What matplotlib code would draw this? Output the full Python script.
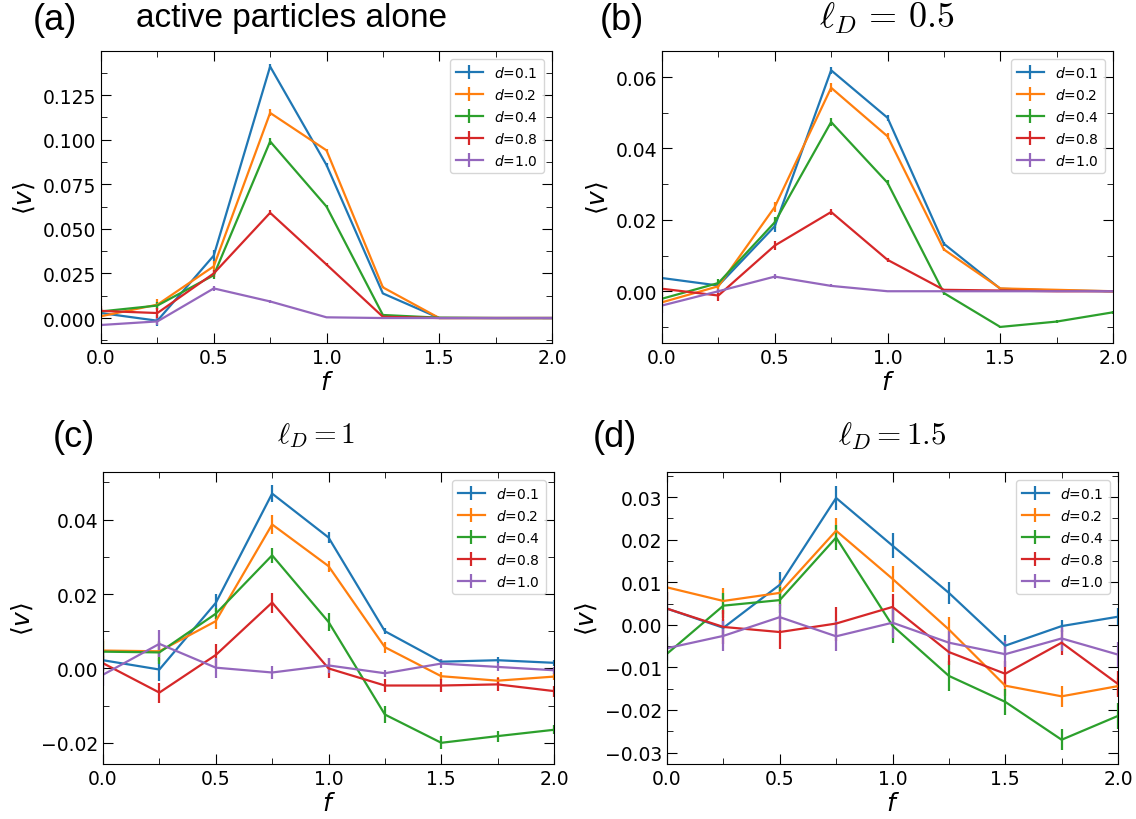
import numpy as np
from matplotlib import pyplot as plt
from matplotlib.ticker import MultipleLocator

# f values shared by all panels
f_vals = [0.0, 0.25, 0.5, 0.75, 1.0, 1.25, 1.5, 1.75, 2.0]
d_labels = ["0.1", "0.2", "0.4", "0.8", "1.0"]

# (a) active particles alone
a_v = [
    [0.0028, -0.0015, 0.035, 0.141, 0.0858, 0.0138, 0.0, 0.0, 0.0],
    [0.001, 0.0075, 0.029, 0.115, 0.094, 0.0172, 0.0, 0.0, 0.0],
    [0.0037, 0.007, 0.024, 0.099, 0.0625, 0.0017, 0.0002, 0.0, 0.0],
    [0.004, 0.0028, 0.025, 0.059, 0.030, 0.0007, 0.0, 0.0, 0.0],
    [-0.0039, -0.0019, 0.0166, 0.0093, 0.0004, 0.0, 0.0, 0.0, 0.0],
]
a_err = [
    [0.002, 0.003, 0.003, 0.0015, 0.001, 0.0005, 0, 0, 0],
    [0.002, 0.003, 0.003, 0.002, 0.001, 0.0005, 0, 0, 0],
    [0.002, 0.002, 0.002, 0.002, 0.001, 0.0005, 0, 0, 0],
    [0.003, 0.003, 0.002, 0.0015, 0.001, 0.0003, 0, 0, 0],
    [0.001, 0.002, 0.0015, 0.0008, 0.0003, 0, 0, 0, 0],
]

# (b) l_D = 0.5
b_v = [
    [0.0037, 0.0016, 0.0182, 0.0619, 0.0486, 0.0133, 0.0007, 0.0002, 0.0],
    [-0.0031, 0.0014, 0.0236, 0.057, 0.0434, 0.0117, 0.0008, 0.0004, 0.0],
    [-0.0021, 0.0023, 0.0193, 0.0474, 0.0304, -0.0005, -0.010, -0.0085, -0.0059],
    [0.0007, -0.0012, 0.0128, 0.0222, 0.0088, 0.0004, 0.0002, 0.0, 0.0],
    [-0.004, 0.0, 0.0041, 0.0015, 0.0, 0.0, 0.0, 0.0, 0.0],
]
b_err = [
    [0.0025, 0.001, 0.0015, 0.001, 0.0008, 0.0005, 0.0002, 0, 0],
    [0.001, 0.001, 0.0015, 0.0012, 0.0008, 0.0005, 0.0002, 0, 0],
    [0.001, 0.0012, 0.0015, 0.001, 0.0007, 0.0005, 0.0004, 0.0004, 0.0004],
    [0.002, 0.0015, 0.0012, 0.0008, 0.0006, 0.0002, 0, 0, 0],
    [0.002, 0.0005, 0.0006, 0.0004, 0.0002, 0, 0, 0, 0],
]

# (c) l_D = 1
c_v = [
    [0.0022, -0.0003, 0.0176, 0.047, 0.0352, 0.010, 0.0018, 0.0022, 0.0015],
    [0.0048, 0.0046, 0.0127, 0.0387, 0.0275, 0.0057, -0.0021, -0.0033, -0.0022],
    [0.0045, 0.0043, 0.0147, 0.0304, 0.0125, -0.0124, -0.020, -0.0182, -0.0165],
    [0.0014, -0.0065, 0.0036, 0.0177, 0.0, -0.0046, -0.0046, -0.0043, -0.0061],
    [-0.0017, 0.0066, 0.0002, -0.0011, 0.0008, -0.0013, 0.0013, 0.0004, -0.0005],
]
c_err = [
    [0.0025, 0.003, 0.0025, 0.0022, 0.0015, 0.0008, 0.0008, 0.0008, 0.0008],
    [0.003, 0.0025, 0.002, 0.0025, 0.0015, 0.0015, 0.001, 0.001, 0.001],
    [0.003, 0.003, 0.0015, 0.002, 0.0025, 0.0022, 0.0018, 0.0015, 0.0012],
    [0.002, 0.0027, 0.003, 0.0027, 0.0027, 0.0018, 0.0018, 0.0018, 0.0015],
    [0.003, 0.0036, 0.0027, 0.0018, 0.002, 0.001, 0.0012, 0.001, 0.001],
]

# (d) l_D = 1.5
d_v = [
    [0.0038, -0.0007, 0.0094, 0.0298, 0.0186, 0.0075, -0.0049, -0.0003, 0.0019],
    [0.0088, 0.0056, 0.0075, 0.0221, 0.0108, -0.0011, -0.0143, -0.0168, -0.0144],
    [-0.0068, 0.0045, 0.0058, 0.0205, -0.0002, -0.012, -0.0181, -0.027, -0.0214],
    [0.0038, -0.0005, -0.0017, 0.0003, 0.0042, -0.0064, -0.0115, -0.0042, -0.0139],
    [-0.0055, -0.0026, 0.0018, -0.0027, 0.0005, -0.0042, -0.0069, -0.0032, -0.007],
]
d_err = [
    [0.004, 0.002, 0.003, 0.0029, 0.003, 0.0025, 0.0025, 0.0015, 0.002],
    [0.003, 0.003, 0.003, 0.003, 0.003, 0.003, 0.0025, 0.0025, 0.002],
    [0.004, 0.003, 0.003, 0.003, 0.004, 0.0035, 0.003, 0.0025, 0.003],
    [0.004, 0.004, 0.004, 0.004, 0.003, 0.003, 0.003, 0.003, 0.003],
    [0.003, 0.0035, 0.003, 0.0035, 0.0035, 0.003, 0.003, 0.003, 0.003],
]

fig = plt.figure(figsize=(11.36, 8.2), dpi=100)
W, H = 1136, 820


def make_axes(left, top, right, bottom):
    return fig.add_axes([left / W, 1 - bottom / H, (right - left) / W, (bottom - top) / H])


panels = [
    (make_axes(101, 52, 552, 344), a_v, a_err, (-0.014, 0.1497), 0.025),
    (make_axes(662, 52, 1113, 344), b_v, b_err, (-0.0145, 0.0673), 0.02),
    (make_axes(103, 473, 554, 765), c_v, c_err, (-0.0257, 0.0528), 0.02),
    (make_axes(667, 473, 1118, 765), d_v, d_err, (-0.0327, 0.0359), 0.01),
]

for ax, vals, errs, ylim, major in panels:
    for v, e, lab in zip(vals, errs, d_labels):
        ax.errorbar(f_vals, v, yerr=e, label="$d$=" + lab, linewidth=1.6, elinewidth=1.6)
    ax.set_xlim(0, 2.0)
    ax.set_ylim(*ylim)
    ax.xaxis.set_major_locator(MultipleLocator(0.5))
    ax.xaxis.set_minor_locator(MultipleLocator(0.25))
    ax.yaxis.set_major_locator(MultipleLocator(major))
    ax.yaxis.set_minor_locator(MultipleLocator(major / 2))
    ax.tick_params(which="both", direction="in", top=True, right=True, labelsize=13.5)
    ax.tick_params(which="major", length=7)
    ax.tick_params(which="minor", length=4)
    ax.set_xlabel("$f$", fontsize=18, labelpad=2)
    ax.set_ylabel(r"$\langle v \rangle$", fontsize=18, labelpad=4)
    ax.legend(loc="upper right", fontsize=10, handlelength=2.0, borderaxespad=0.6)

# panel labels and titles
fig.text(55 / W, 1 - 20 / H, "(a)", fontsize=26, family="Liberation Sans", ha="center", va="center")
fig.text(292 / W, 1 - 18 / H, "active particles alone", fontsize=24, family="Liberation Sans",
         ha="center", va="center")
fig.text(622 / W, 1 - 20 / H, "(b)", fontsize=26, family="Liberation Sans", ha="center", va="center")
fig.text(887 / W, 1 - 18 / H, r"$\ell_D \,=\, 0.5$", fontsize=26, ha="center", va="center",
         math_fontfamily="cm")
fig.text(74 / W, 1 - 438 / H, "(c)", fontsize=26, family="Liberation Sans", ha="center", va="center")
fig.text(316 / W, 1 - 436 / H, r"$\ell_D=1$", fontsize=21, ha="center", va="center",
         math_fontfamily="cm")
fig.text(615 / W, 1 - 438 / H, "(d)", fontsize=26, family="Liberation Sans", ha="center", va="center")
fig.text(892 / W, 1 - 436 / H, r"$\ell_D=1.5$", fontsize=22.5, ha="center", va="center",
         math_fontfamily="cm")

plt.savefig("out.png", dpi=100)
